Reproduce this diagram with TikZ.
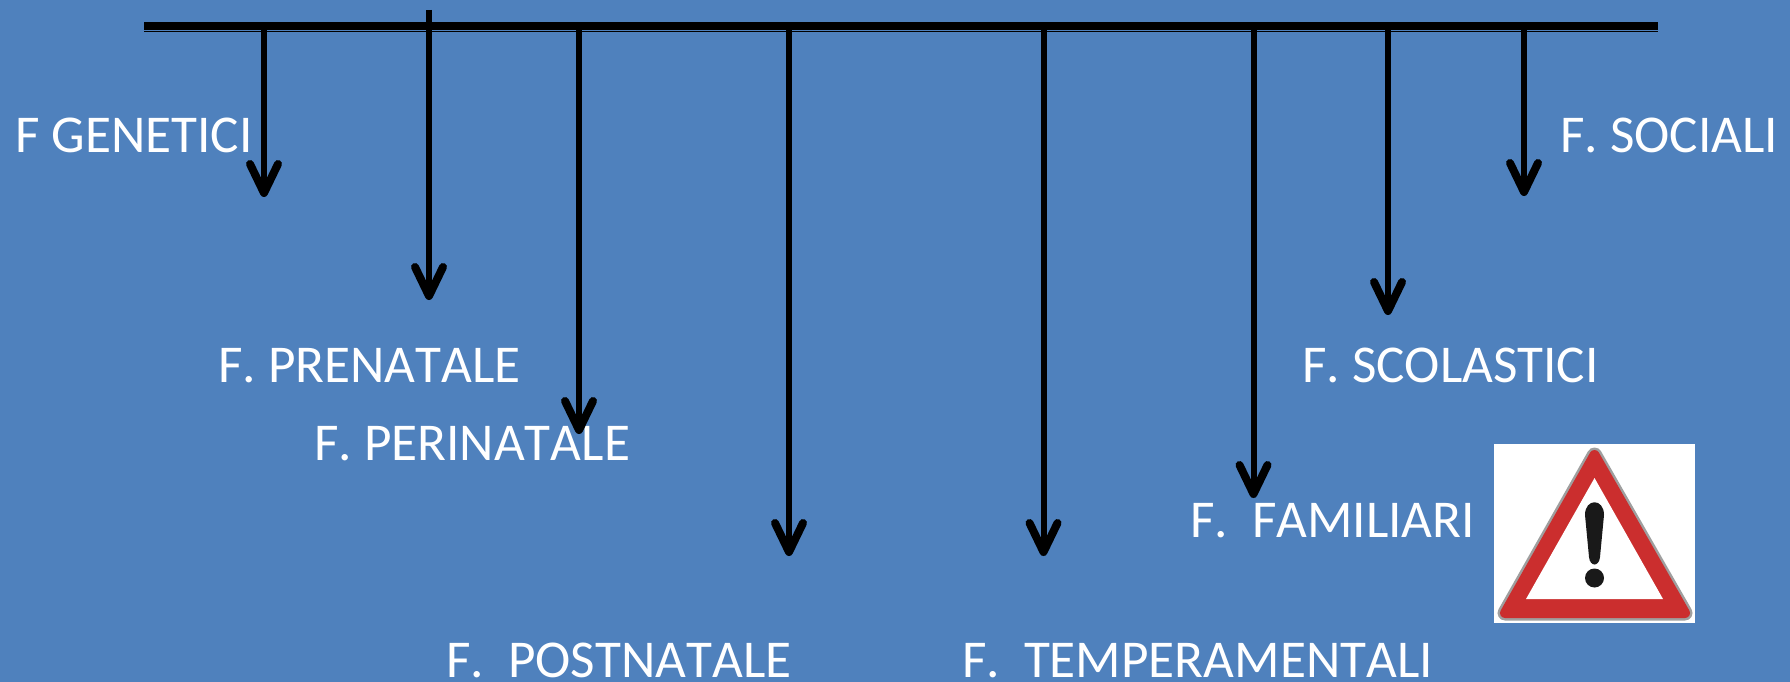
\documentclass[tikz,border=0pt]{standalone}
\usepackage{fontspec}
\setmainfont[Kerning=Off,Ligatures=NoCommon]{Carlito}
\usetikzlibrary{arrows.meta}
\definecolor{bgblue}{HTML}{4F81BD}
\definecolor{signred}{HTML}{CB2E2E}
\tikzset{
  lab/.style={anchor=base west,inner sep=0pt,text=white,font=\fontsize{53.2}{53.2}\selectfont},
  bar/.style={draw=black,line width=8pt},
  arr/.style={draw=black,line width=6pt,-{Straight Barb[length=29pt,width=28pt,line width=8pt,round]}}
}
\begin{document}
\begin{tikzpicture}[x=1pt,y=-1pt]
\useasboundingbox (0,0) rectangle (1790,682);
\fill[bgblue] (0,0) rectangle (1790,682);
% labels
\node[lab] (l1) at (15,153) {F GENETICI};
\node[lab] (l2) at (218,382) {F. PRENATALE};
\node[lab] (l3) at (314,460) {F. PERINATALE};
\node[lab] (l4) at (446,677) {F.\ \ POSTNATALE};
\node[lab] (l5) at (962,677) {F.\ \ TEMPERAMENTALI};
\node[lab] (l6) at (1190,537) {F.\ \ FAMILIARI};
\node[lab] (l7) at (1302,382) {F. SCOLASTICI};
\node[lab] (l8) at (1560,153) {F. SOCIALI};
% bar
\coordinate (bl) at (144,26);
\coordinate (br) at (1658,26);
\draw[bar] (bl) -- (br);
\draw[black,line width=1pt] (144,31.5) -- (1658,31.5);
% arrows
\foreach \n/\x/\ys/\ye in {a/264/26/197,b/429/10/300,c/579/26/434,d/789/26/556,e/1043.5/26/556,f/1253.5/26/498,g/1388/26/315,h/1524/26/196}{
  \coordinate (\n s) at (\x,\ys);
  \coordinate (\n e) at (\x,\ye);
  \draw[arr] (\n s) -- (\n e);
}
% warning sign
\fill[white] (1494,444) rectangle (1695,623);
\draw[draw=gray!75,line width=15pt,line join=round,fill=gray!75] (1594.5,455) -- (1685,613) -- (1505,613) -- cycle;
\draw[draw=signred,line width=10pt,line join=round,fill=signred] (1594.5,455) -- (1685,613) -- (1505,613) -- cycle;
\fill[white] (1594.5,478) -- (1663,599) -- (1526,599) -- cycle;
\fill[black!90] (1585,515) .. controls (1585,498) and (1604,498) .. (1604,515) -- (1600,557) .. controls (1599,567) and (1590,567) .. (1589,557) -- cycle;
\fill[black!90] (1594.5,578) circle (9.5pt);
\end{tikzpicture}
\end{document}
